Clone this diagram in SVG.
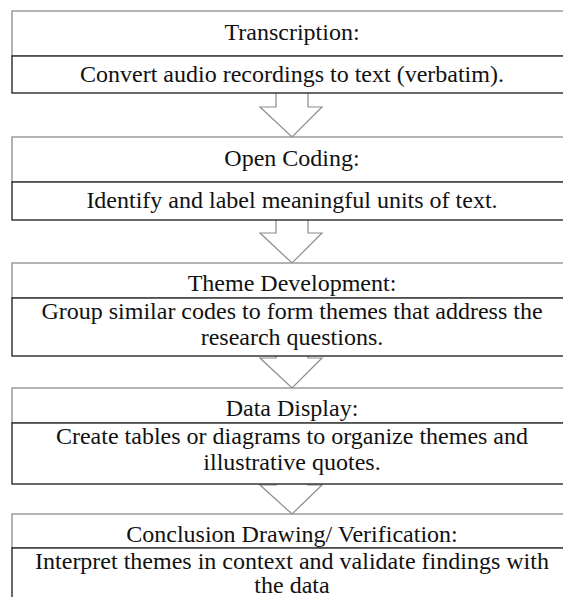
<svg xmlns="http://www.w3.org/2000/svg" width="563" height="597" viewBox="0 0 563 597">
<style>
.bg{fill:#ffffff}
.title{fill:#ffffff;stroke:#8c8c8c;stroke-width:1.3}
.body{fill:#ffffff;stroke:#1a1a1a;stroke-width:1.3}
.arrow{fill:#ffffff;stroke:#8c8c8c;stroke-width:1.2;stroke-linejoin:miter}
.t{font-size:24px;fill:#111111;text-anchor:middle}
</style>
<rect class="bg" x="0" y="0" width="563" height="597"/>
<g id="connectors">
<path class="arrow" d="M276,93 V107 H260 L292,137 L322,107 H308 V93"/>
<path class="arrow" d="M276,220 V233 H260 L292,263 L322,233 H308 V220"/>
<path class="arrow" d="M276,356 V358 H260 L292,388 L322,358 H308 V356"/>
<path class="arrow" d="M276,484 V485 H260 L292,514 L322,485 H308 V484"/>
</g>
<g font-family="'Liberation Serif', 'DejaVu Serif', serif">
<g id="node1">
<rect class="title" x="12" y="11" width="561" height="45"/>
<rect class="body" x="12" y="56" width="561" height="37"/>
<text class="t" x="292" y="40">Transcription:</text>
<text class="t" x="292" y="82">Convert audio recordings to text (verbatim).</text>
</g>
<g id="node2">
<rect class="title" x="12" y="137" width="561" height="45"/>
<rect class="body" x="12" y="182" width="561" height="38"/>
<text class="t" x="292" y="166">Open Coding:</text>
<text class="t" x="292" y="208">Identify and label meaningful units of text.</text>
</g>
<g id="node3">
<rect class="title" x="12" y="263" width="561" height="35"/>
<rect class="body" x="12" y="298" width="561" height="58"/>
<text class="t" x="292" y="291">Theme Development:</text>
<text class="t" x="292" y="319">Group similar codes to form themes that address the</text>
<text class="t" x="292" y="345">research questions.</text>
</g>
<g id="node4">
<rect class="title" x="12" y="388" width="561" height="35"/>
<rect class="body" x="12" y="423" width="561" height="61"/>
<text class="t" x="292" y="416">Data Display:</text>
<text class="t" x="292" y="444">Create tables or diagrams to organize themes and</text>
<text class="t" x="292" y="470">illustrative quotes.</text>
</g>
<g id="node5">
<rect class="title" x="12" y="514" width="561" height="34"/>
<rect class="body" x="12" y="548" width="561" height="60"/>
<text class="t" x="292" y="542">Conclusion Drawing/ Verification:</text>
<text class="t" x="292" y="569">Interpret themes in context and validate findings with</text>
<text class="t" x="292" y="593">the data</text>
</g>
</g>
</svg>
